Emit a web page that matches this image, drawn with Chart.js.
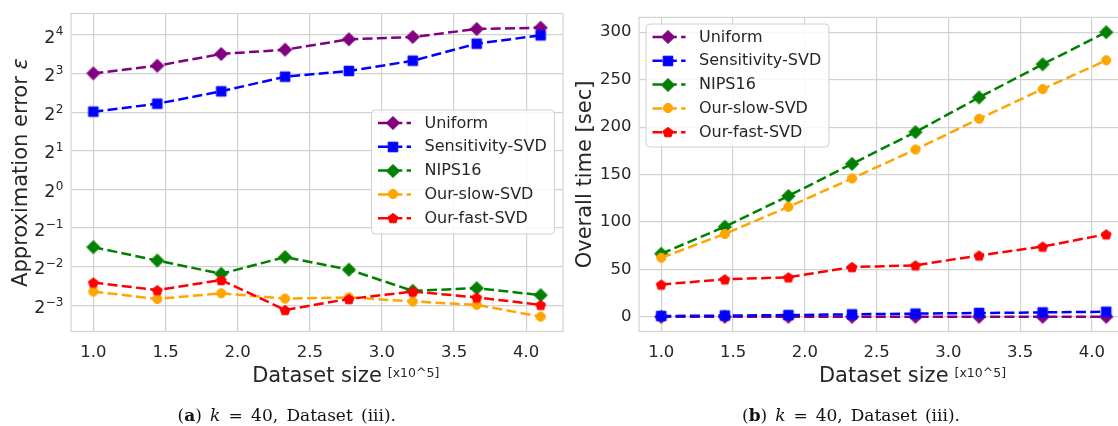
<!DOCTYPE html>
<html><head><meta charset="utf-8">
<script src="https://cdn.jsdelivr.net/npm/chart.js@4/dist/chart.umd.min.js"></script>
<style>
html,body{margin:0;padding:0;background:#fff;width:1118px;height:426px;overflow:hidden;position:relative;}
#c1{position:absolute;left:0;top:0;}
#c2{position:absolute;left:575px;top:0;}
.cap{position:absolute;top:406.5px;height:19px;font-family:"DejaVu Serif",serif;font-size:17px;line-height:17px;color:#111;white-space:nowrap;display:flex;justify-content:space-between;}
</style></head>
<body>
<canvas id="c1" width="575" height="426"></canvas>
<canvas id="c2" width="575" height="426"></canvas>
<div class="cap" style="left:177.5px;width:218.5px"><span>(<b>a</b>)</span><span><i>k</i></span><span>=</span><span>40,</span><span>Dataset</span><span>(iii).</span></div>
<div class="cap" style="left:742px;width:218px"><span>(<b>b</b>)</span><span><i>k</i></span><span>=</span><span>40,</span><span>Dataset</span><span>(iii).</span></div>
<script>
// ---------------- data ----------------
const xSizes = [1.0, 1.443, 1.886, 2.329, 2.771, 3.214, 3.657, 4.1];
const xTickValues = [1.0, 1.5, 2.0, 2.5, 3.0, 3.5, 4.0];

const seriesNames = ['Uniform', 'Sensitivity-SVD', 'NIPS16', 'Our-slow-SVD', 'Our-fast-SVD'];
const seriesColors = ['#800080', '#0000ff', '#008000', '#ffa500', '#ff0000'];
const seriesMarkers = ['diamond', 'square', 'diamond', 'circle', 'pentagon'];

// (a) approximation error (log2 axis)
const errUniform     = [8.04, 9.22, 11.38, 12.29, 14.81, 15.44, 17.81, 18.24];
const errSensitivity = [4.04, 4.66, 5.82, 7.57, 8.39, 10.08, 13.69, 15.91];
const errNips16      = [0.355, 0.279, 0.220, 0.297, 0.237, 0.162, 0.170, 0.150];
const errOurSlow     = [0.160, 0.140, 0.155, 0.141, 0.144, 0.134, 0.126, 0.102];
const errOurFast     = [0.188, 0.164, 0.197, 0.115, 0.140, 0.160, 0.144, 0.126];
const errTickValues    = [16, 8, 4, 2, 1, 0.5, 0.25, 0.125];
const errTickBase      = '2';
const errTickExponents = ['4', '3', '2', '1', '0', '\u22121', '\u22122', '\u22123'];

// (b) overall time [sec]
const timeUniform     = [0.2, 0.2, 0.2, 0.2, 0.2, 0.2, 0.2, 0.2];
const timeSensitivity = [1.0, 1.5, 2.0, 2.8, 3.5, 4.2, 4.8, 5.5];
const timeNips16      = [66.6, 95.1, 127.5, 161.3, 194.8, 231.3, 266.2, 300.0];
const timeOurSlow     = [62.4, 87.5, 116.0, 146.0, 176.4, 208.8, 240.1, 270.4];
const timeOurFast     = [34.2, 39.7, 41.8, 52.6, 54.4, 64.8, 74.2, 87.1];
const timeTickValues  = [0, 50, 100, 150, 200, 250, 300];

// ---------------- styling ----------------
const TXT = '#262626';
const GRID = '#d2d2d2';
const FONT = 'DejaVu Sans';
const DASH = [10, 4.3];

function makeMarker(shape, color) {
  const c = document.createElement('canvas');
  c.width = 16; c.height = 16;
  const g = c.getContext('2d');
  g.fillStyle = color; g.strokeStyle = color; g.lineWidth = 1;
  g.beginPath();
  const cx = 8, cy = 8;
  if (shape === 'diamond') {
    const r = 6.6;
    g.moveTo(cx, cy - r); g.lineTo(cx + r, cy); g.lineTo(cx, cy + r); g.lineTo(cx - r, cy);
  } else if (shape === 'square') {
    g.rect(cx - 4.8, cy - 4.8, 9.6, 9.6);
  } else if (shape === 'circle') {
    g.arc(cx, cy, 4.6, 0, Math.PI * 2);
  } else {
    const r = 5.2;
    for (let k = 0; k < 5; k++) {
      const a = -Math.PI / 2 + k * 2 * Math.PI / 5;
      const px = cx + r * Math.cos(a), py = cy + 0.6 + r * Math.sin(a);
      if (k === 0) g.moveTo(px, py); else g.lineTo(px, py);
    }
  }
  g.closePath(); g.fill(); g.stroke();
  return c;
}
const markerImgs = seriesNames.map((n, i) => makeMarker(seriesMarkers[i], seriesColors[i]));

function buildDatasets(seriesValues) {
  return seriesValues.map((vals, i) => ({
    label: seriesNames[i],
    data: xSizes.map((x, j) => ({ x: x, y: vals[j] })),
    borderColor: seriesColors[i],
    backgroundColor: seriesColors[i],
    borderWidth: 2.5,
    borderDash: DASH,
    pointStyle: markerImgs[i],
    pointRadius: 6,
    pointHoverRadius: 6,
    tension: 0,
    order: 5 - i
  }));
}

const decor = {
  id: 'decor',
  beforeDatasetsDraw(chart) {
    const a = chart.chartArea, ctx = chart.ctx;
    ctx.save();
    ctx.strokeStyle = GRID; ctx.lineWidth = 1.2;
    ctx.strokeRect(a.left, a.top, a.right - a.left, a.bottom - a.top);
    ctx.restore();
  },
  afterDraw(chart, args, o) {
    const a = chart.chartArea, ctx = chart.ctx;
    // power-of-two tick labels
    if (o.powTicks) {
      const ys = chart.scales.y;
      ctx.save();
      ctx.fillStyle = TXT;
      ctx.textBaseline = 'alphabetic';
      ctx.textAlign = 'left';
      const right = a.left - 7.6;
      errTickValues.forEach((v, i) => {
        const y = ys.getPixelForValue(v);
        ctx.font = '12px "' + FONT + '"';
        const we = ctx.measureText(errTickExponents[i]).width;
        ctx.fillText(errTickExponents[i], right - we, y + 0.3);
        ctx.font = '17.5px "' + FONT + '"';
        const wb = ctx.measureText(errTickBase).width;
        ctx.fillText(errTickBase, right - we - wb - 0.3, y + 7.6);
      });
      ctx.restore();
    }
    ctx.save();
    // y title
    ctx.fillStyle = TXT;
    ctx.translate(o.yTitleX, (a.top + a.bottom) / 2);
    ctx.rotate(-Math.PI / 2);
    ctx.textBaseline = 'alphabetic';
    ctx.font = '21px "' + FONT + '"';
    if (o.yTitleItalic) {
      const w1 = ctx.measureText(o.yTitle).width;
      ctx.font = 'italic 21px "' + FONT + '"';
      const w2 = ctx.measureText(o.yTitleItalic).width;
      ctx.textAlign = 'left';
      ctx.fillText(o.yTitleItalic, -(w1 + w2) / 2 + w1, 0);
      ctx.font = '21px "' + FONT + '"';
      ctx.fillText(o.yTitle, -(w1 + w2) / 2, 0);
    } else {
      ctx.textAlign = 'center';
      ctx.fillText(o.yTitle, 0, 0);
    }
    ctx.restore();
    // x title
    ctx.save();
    ctx.fillStyle = TXT;
    ctx.font = '21px "' + FONT + '"';
    ctx.textBaseline = 'alphabetic';
    ctx.textAlign = 'center';
    const cx = (a.left + a.right) / 2;
    ctx.fillText('Dataset size', cx, 381.7);
    const tw = ctx.measureText('Dataset size').width;
    ctx.font = '12.5px "' + FONT + '"';
    ctx.textAlign = 'left';
    ctx.fillText('[x10^5]', cx + tw / 2 + 6, 376.7);
    ctx.restore();
    // legend
    const L = o.legend;
    ctx.save();
    ctx.beginPath();
    if (ctx.roundRect) ctx.roundRect(L.x, L.y, L.w, L.h, 4); else ctx.rect(L.x, L.y, L.w, L.h);
    ctx.fillStyle = 'rgba(255,255,255,0.85)';
    ctx.fill();
    ctx.strokeStyle = '#d0d0d0'; ctx.lineWidth = 1;
    ctx.stroke();
    ctx.font = '16px "' + FONT + '"';
    ctx.textBaseline = 'middle';
    ctx.textAlign = 'left';
    seriesNames.forEach((name, i) => {
      const y = L.y + 13 + i * 23.8;
      const hx = L.x + 6.5;
      ctx.strokeStyle = seriesColors[i];
      ctx.lineWidth = 2.5;
      ctx.setLineDash(DASH);
      ctx.beginPath(); ctx.moveTo(hx, y); ctx.lineTo(hx + 33, y); ctx.stroke();
      ctx.setLineDash([]);
      const m = markerImgs[i];
      ctx.drawImage(m, Math.round(hx + 15 - 8), Math.round(y - 8));
      ctx.fillStyle = TXT;
      ctx.fillText(name, L.x + 53, y + 0.5);
    });
    ctx.restore();
  }
};

function xScale() {
  return {
    type: 'linear', min: 0.845, max: 4.255,
    grid: { color: GRID, lineWidth: 1.2, drawTicks: false },
    border: { display: false },
    ticks: { color: TXT, font: { family: FONT, size: 16.5 }, padding: 11, maxRotation: 0,
             callback: v => Number(v).toFixed(1) },
    afterBuildTicks: s => { s.ticks = xTickValues.map(v => ({ value: v })); },
    afterFit: s => { s.height = 94.5; }
  };
}

Chart.defaults.animation = false;

new Chart(document.getElementById('c1'), {
  type: 'line',
  data: { datasets: buildDatasets([errUniform, errSensitivity, errNips16, errOurSlow, errOurFast]) },
  options: {
    responsive: false, animation: false,
    layout: { padding: { left: 0, right: 12, top: 13.5, bottom: 0 } },
    plugins: {
      legend: { display: false }, tooltip: { enabled: false },
      decor: { powTicks: true, yTitle: 'Approximation error ', yTitleItalic: '\u03b5', yTitleX: 26.7,
               legend: { x: 371.5, y: 110, w: 183, h: 124 } }
    },
    scales: {
      x: xScale(),
      y: {
        type: 'logarithmic', min: Math.pow(2, -3.679), max: Math.pow(2, 4.557),
        grid: { color: GRID, lineWidth: 1.2, drawTicks: false },
        border: { display: false },
        ticks: { display: false },
        afterBuildTicks: s => { s.ticks = errTickValues.map(v => ({ value: v })); },
        afterFit: s => { s.width = 71; }
      }
    }
  },
  plugins: [decor]
});

new Chart(document.getElementById('c2'), {
  type: 'line',
  data: { datasets: buildDatasets([timeUniform, timeSensitivity, timeNips16, timeOurSlow, timeOurFast]) },
  options: {
    responsive: false, animation: false,
    layout: { padding: { left: 0, right: 21.5, top: 15, bottom: 0 } },
    plugins: {
      legend: { display: false }, tooltip: { enabled: false },
      decor: { yTitle: 'Overall time [sec]', yTitleX: 591 - 575,
               legend: { x: 71, y: 24, w: 183, h: 123 } }
    },
    scales: {
      x: xScale(),
      y: {
        type: 'linear', min: -15.3, max: 315.6,
        grid: { color: GRID, lineWidth: 1.2, drawTicks: false },
        border: { display: false },
        ticks: { color: TXT, font: { family: FONT, size: 16.5 }, padding: 7.5,
                 callback: v => String(v) },
        afterBuildTicks: s => { s.ticks = timeTickValues.map(v => ({ value: v })); },
        afterFit: s => { s.width = 64; }
      }
    }
  },
  plugins: [decor]
});
</script>
</body></html>
